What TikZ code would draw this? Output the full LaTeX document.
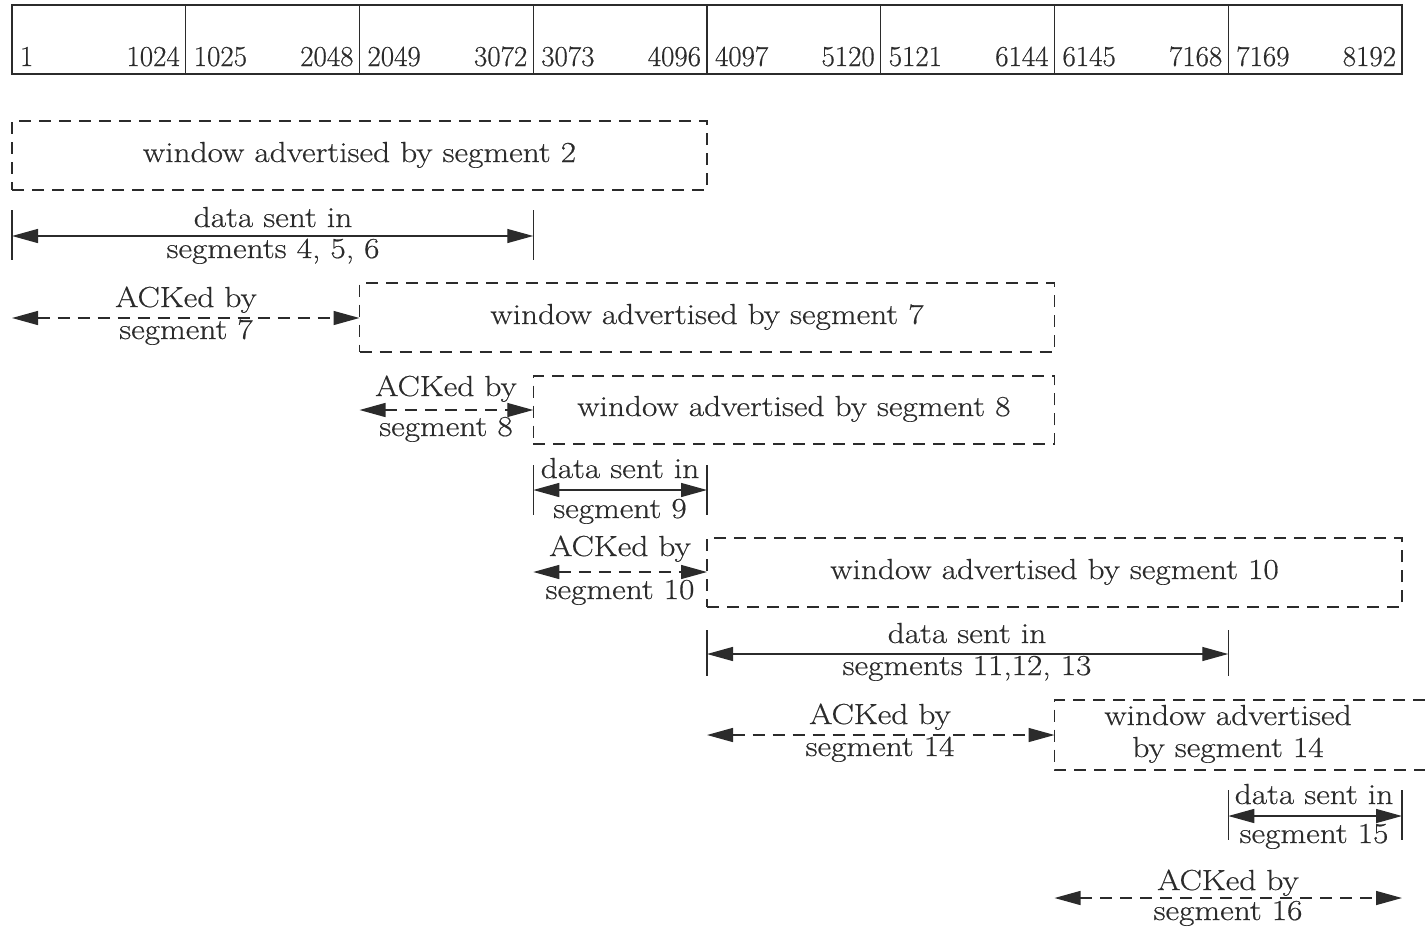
\documentclass[tikz,border=0pt]{standalone}
\usepackage{fontspec}
\usetikzlibrary{arrows.meta}
\newfontfamily\widefont[FakeStretch=1.15,FakeBold=0.5]{Latin Modern Roman}
\newfontfamily\numfont[FakeBold=0.5]{Latin Modern Roman}
\definecolor{ink}{HTML}{2B2B2B}
\begin{document}
\begin{tikzpicture}[x=1pt,y=-1pt,
  every node/.style={inner sep=0pt,outer sep=0pt,text=ink,font=\widefont\fontsize{29}{32}\selectfont},
  num/.style={font=\numfont\fontsize{29}{32}\selectfont},
  cell/.style={draw=ink,line width=1.4pt,minimum width=173.75pt,minimum height=69pt},
  win/.style={draw=ink,line width=1.4pt,dash pattern=on 12pt off 8pt},
  lbl/.style={anchor=base},
  datarr/.style={draw=ink,line width=1.4pt,{Triangle[length=26pt,width=14pt]}-{Triangle[length=26pt,width=14pt]}},
  ackarr/.style={draw=ink,line width=1.4pt,dash pattern=on 12pt off 8pt,{Triangle[length=26pt,width=14pt]}-{Triangle[length=26pt,width=14pt]}},
  tick/.style={draw=ink,line width=1.4pt}]
\useasboundingbox (0,0) rectangle (1425,927);
% top bar
\foreach \i/\a/\b in {0/1/1024,1/1025/2048,2/2049/3072,3/3073/4096,4/4097/5120,5/5121/6144,6/6145/7168,7/7169/8192}{
  \node[cell] (c\i) at ({12+173.75*\i+86.875},39.5) {};
  \node[num,anchor=base west] (cl\i) at ({12+173.75*\i+8},66) {\a};
  \node[num,anchor=base east] (cr\i) at ({12+173.75*(\i+1)-6},66) {\b};
}
% window 2
\node[win,minimum width=695pt,minimum height=69pt] (w2) at (359.5,155.5) {};
\node[lbl] (w2t) at (359.5,162) {window advertised by segment 2};
% data 4,5,6
\coordinate (t1a) at (12,210); \coordinate (t1b) at (12,260);
\coordinate (t2a) at (533.25,210); \coordinate (t2b) at (533.25,260);
\draw[tick] (t1a) -- (t1b); \draw[tick] (t2a) -- (t2b);
\coordinate (d1L) at (12,236); \coordinate (d1R) at (533.25,236);
\draw[datarr] (d1L) -- (d1R);
\node[lbl] (d1t) at (273,227) {data sent in};
\node[lbl] (d1b) at (273,258) {segments 4, 5, 6};
% ack 7
\coordinate (a7L) at (12,318); \coordinate (a7R) at (359.5,318);
\draw[ackarr] (a7L) -- (a7R);
\node[lbl] (a7t) at (186,307) {ACKed by};
\node[lbl] (a7b) at (186,339) {segment 7};
% window 7
\node[win,minimum width=694.75pt,minimum height=69pt] (w7) at (707,317.5) {};
\node[lbl] (w7t) at (707,324) {window advertised by segment 7};
% ack 8
\coordinate (a8L) at (359.5,410); \coordinate (a8R) at (533.25,410);
\draw[ackarr] (a8L) -- (a8R);
\node[lbl] (a8t) at (446,396) {ACKed by};
\node[lbl] (a8b) at (446,436) {segment 8};
% window 8
\node[win,minimum width=521.25pt,minimum height=68pt] (w8) at (793.9,410) {};
\node[lbl] (w8t) at (793.9,416) {window advertised by segment 8};
% data 9
\coordinate (t3a) at (533.25,465); \coordinate (t3b) at (533.25,515);
\coordinate (t4a) at (707,465); \coordinate (t4b) at (707,515);
\draw[tick] (t3a) -- (t3b); \draw[tick] (t4a) -- (t4b);
\coordinate (d9L) at (533.25,490); \coordinate (d9R) at (707,490);
\draw[datarr] (d9L) -- (d9R);
\node[lbl] (d9t) at (620,478) {data sent in};
\node[lbl] (d9b) at (620,518) {segment 9};
% ack 10
\coordinate (a10L) at (533.25,572); \coordinate (a10R) at (707,572);
\draw[ackarr] (a10L) -- (a10R);
\node[lbl] (a10t) at (620,556) {ACKed by};
\node[lbl] (a10b) at (620,599) {segment 10};
% window 10
\node[win,minimum width=695pt,minimum height=69pt] (w10) at (1054.5,572.5) {};
\node[lbl] (w10t) at (1054.5,579) {window advertised by segment 10};
% data 11,12,13
\coordinate (t5a) at (707,630); \coordinate (t5b) at (707,676);
\coordinate (t6a) at (1228.25,630); \coordinate (t6b) at (1228.25,676);
\draw[tick] (t5a) -- (t5b); \draw[tick] (t6a) -- (t6b);
\coordinate (d11L) at (707,654); \coordinate (d11R) at (1228.25,654);
\draw[datarr] (d11L) -- (d11R);
\node[lbl] (d11t) at (967,643) {data sent in};
\node[lbl] (d11b) at (967,675) {segments 11,12, 13};
% ack 14
\coordinate (a14L) at (707,735); \coordinate (a14R) at (1054.5,735);
\draw[ackarr] (a14L) -- (a14R);
\node[lbl] (a14t) at (880,724) {ACKed by};
\node[lbl] (a14b) at (880,756) {segment 14};
% window 14 (open to the right)
\coordinate (w14a) at (1425,700); \coordinate (w14b) at (1054.5,700);
\coordinate (w14c) at (1054.5,770); \coordinate (w14d) at (1425,770);
\draw[win] (w14a) -- (w14b) -- (w14c) -- (w14d);
\node[lbl] (w14t) at (1228,725) {window advertised};
\node[lbl] (w14u) at (1228,757) {by segment 14};
% data 15
\coordinate (t7a) at (1228.25,790); \coordinate (t7b) at (1228.25,840);
\coordinate (t8a) at (1402,790); \coordinate (t8b) at (1402,840);
\draw[tick] (t7a) -- (t7b); \draw[tick] (t8a) -- (t8b);
\coordinate (d15L) at (1228.25,816); \coordinate (d15R) at (1402,816);
\draw[datarr] (d15L) -- (d15R);
\node[lbl] (d15t) at (1314,804) {data sent in};
\node[lbl] (d15b) at (1314,843) {segment 15};
% ack 16
\coordinate (a16L) at (1054.5,898); \coordinate (a16R) at (1402,898);
\draw[ackarr] (a16L) -- (a16R);
\node[lbl] (a16t) at (1228,890) {ACKed by};
\node[lbl] (a16b) at (1228,920) {segment 16};
\end{tikzpicture}
\end{document}
